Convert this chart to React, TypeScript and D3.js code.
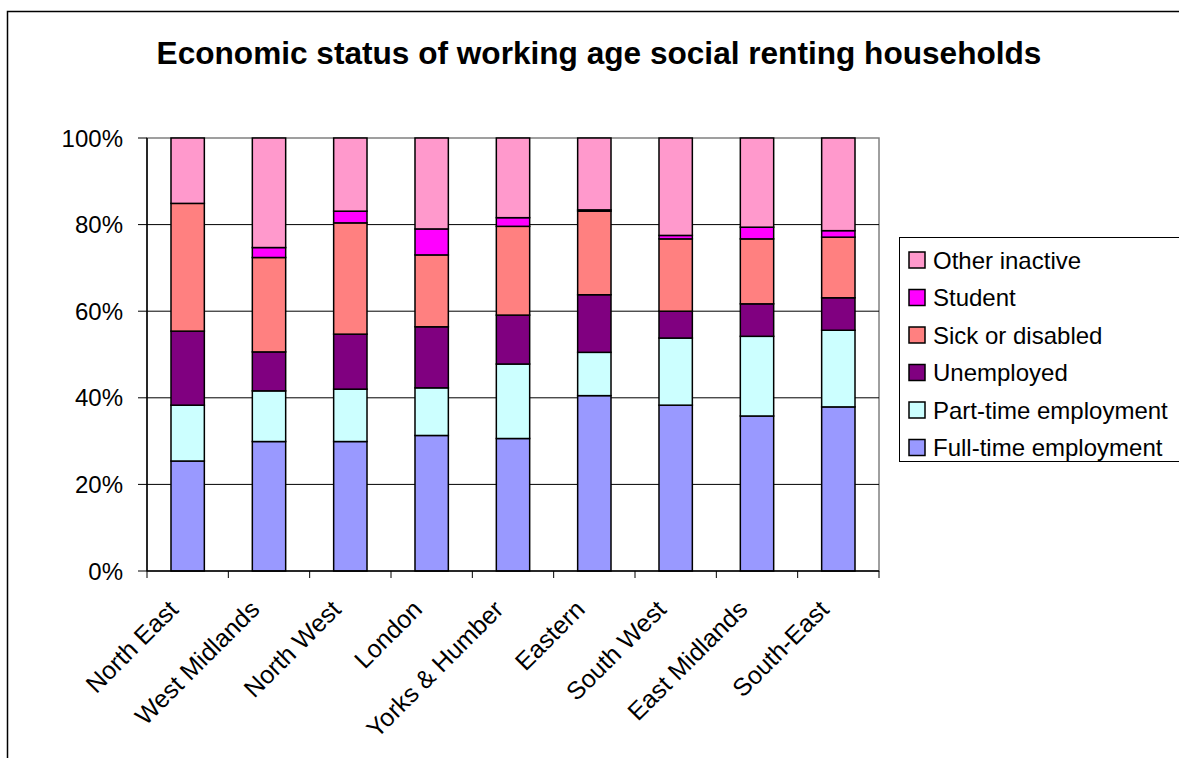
import React from "react";
import * as d3 from "d3";

const categories = [
  "North East",
  "West Midlands",
  "North West",
  "London",
  "Yorks & Humber",
  "Eastern",
  "South West",
  "East Midlands",
  "South-East",
];
const fullTime = [25.4, 29.9, 29.9, 31.3, 30.6, 40.5, 38.3, 35.8, 37.9];
const partTime = [12.9, 11.7, 12.1, 11.0, 17.2, 10.0, 15.5, 18.4, 17.7];
const unemployed = [17.1, 9.0, 12.7, 14.1, 11.3, 13.3, 6.2, 7.5, 7.5];
const sickDisabled = [29.5, 21.8, 25.7, 16.6, 20.5, 19.3, 16.7, 15.0, 14.0];
const student = [0, 2.3, 2.7, 6.0, 2.0, 0.3, 0.8, 2.7, 1.5];
const otherInactive = [15.1, 25.3, 16.9, 21.0, 18.4, 16.6, 22.5, 20.6, 21.4];

const seriesNames = [
  "Full-time employment",
  "Part-time employment",
  "Unemployed",
  "Sick or disabled",
  "Student",
  "Other inactive",
];
const seriesValues = [fullTime, partTime, unemployed, sickDisabled, student, otherInactive];
const seriesColors = ["#9999FF", "#CCFFFF", "#800080", "#FF8080", "#FF00FF", "#FF99CC"];
const yTicks = [0, 20, 40, 60, 80, 100];
const title = "Economic status of working age social renting households";

const FONT = "'Liberation Sans', Arial, Helvetica, sans-serif";

export default function App() {
  const W = 1179;
  const H = 758;
  const plot = { left: 147, right: 879, top: 138, bottom: 571 };

  const x = d3
    .scaleBand<string>()
    .domain(categories)
    .range([plot.left, plot.right])
    .paddingInner(0.59)
    .paddingOuter(0.295);
  const xCat = d3.scaleBand<string>().domain(categories).range([plot.left, plot.right]).padding(0);
  const y = d3.scaleLinear().domain([0, 100]).range([plot.bottom, plot.top]);

  const rows = categories.map((c, i) => {
    const r: Record<string, any> = { category: c };
    seriesNames.forEach((s, k) => (r[s] = seriesValues[k][i]));
    return r;
  });
  const stacked = d3.stack<Record<string, any>>().keys(seriesNames)(rows);

  const boundaries = categories.map((c) => xCat(c) as number).concat([plot.right]);

  const legendX = 899;
  const legendTop = 237;
  const legendRow0 = 260;
  const legendStep = 37.5;
  const legendOrder = seriesNames.map((_, i) => i).reverse();

  return (
    <svg
      width={W}
      height={H}
      style={{ position: "absolute", left: 0, top: 0, background: "#fff" }}
      fontFamily={FONT}
    >
      <rect x={0} y={0} width={W} height={H} fill="#fff" />
      {/* chart frame */}
      <rect x={7.5} y={11.5} width={1200} height={800} fill="none" stroke="#000" strokeWidth={1.5} />

      {/* title */}
      <text x={599} y={64} textAnchor="middle" fontSize={31.6} fontWeight="bold" fill="#000">
        {title}
      </text>

      {/* plot area border */}
      <rect
        x={plot.left}
        y={plot.top}
        width={plot.right - plot.left}
        height={plot.bottom - plot.top}
        fill="#fff"
        stroke="#808080"
        strokeWidth={1.5}
      />

      {/* gridlines */}
      {yTicks
        .filter((t) => t > 0 && t < 100)
        .map((t) => (
          <line key={"g" + t} x1={plot.left} x2={plot.right} y1={y(t)} y2={y(t)} stroke="#000" strokeWidth={1} />
        ))}

      {/* bars */}
      {stacked.map((layer, k) => (
        <g key={layer.key}>
          {layer.map((d, i) => {
            const h = y(d[0]) - y(d[1]);
            if (h <= 0) return null;
            return (
              <rect
                key={i}
                x={x(categories[i])}
                y={y(d[1])}
                width={x.bandwidth()}
                height={h}
                fill={seriesColors[k]}
                stroke="#000"
                strokeWidth={1.5}
              />
            );
          })}
        </g>
      ))}

      {/* axes */}
      <line x1={plot.left} x2={plot.left} y1={plot.top} y2={plot.bottom} stroke="#000" strokeWidth={1.5} />
      <line x1={plot.left} x2={plot.right} y1={plot.bottom} y2={plot.bottom} stroke="#000" strokeWidth={1.5} />
      {yTicks.map((t) => (
        <g key={"yt" + t}>
          <line x1={plot.left - 9} x2={plot.left} y1={y(t)} y2={y(t)} stroke="#000" strokeWidth={1} />
          <text x={123} y={y(t)} dy="0.36em" textAnchor="end" fontSize={24} fill="#000">
            {t + "%"}
          </text>
        </g>
      ))}
      {boundaries.map((bx, i) => (
        <line key={"xt" + i} x1={bx} x2={bx} y1={plot.bottom} y2={plot.bottom + 7} stroke="#000" strokeWidth={1} />
      ))}
      {categories.map((c) => {
        const cx = (xCat(c) as number) + xCat.bandwidth() / 2;
        return (
          <text
            key={"xl" + c}
            transform={`translate(${cx - 8},${611}) rotate(-45)`}
            textAnchor="end"
            fontSize={25}
            fill="#000"
          >
            {c}
          </text>
        );
      })}

      {/* legend */}
      <rect
        x={legendX + 0.5}
        y={legendTop + 0.5}
        width={400}
        height={461 - legendTop}
        fill="#fff"
        stroke="#000"
        strokeWidth={1}
      />
      {legendOrder.map((k, j) => {
        const cy = legendRow0 + j * legendStep;
        return (
          <g key={"lg" + k}>
            <rect x={909} y={cy - 8} width={16} height={16} fill={seriesColors[k]} stroke="#000" strokeWidth={1.5} />
            <text x={933} y={cy} dy="0.36em" fontSize={24} fill="#000">
              {seriesNames[k]}
            </text>
          </g>
        );
      })}
    </svg>
  );
}
